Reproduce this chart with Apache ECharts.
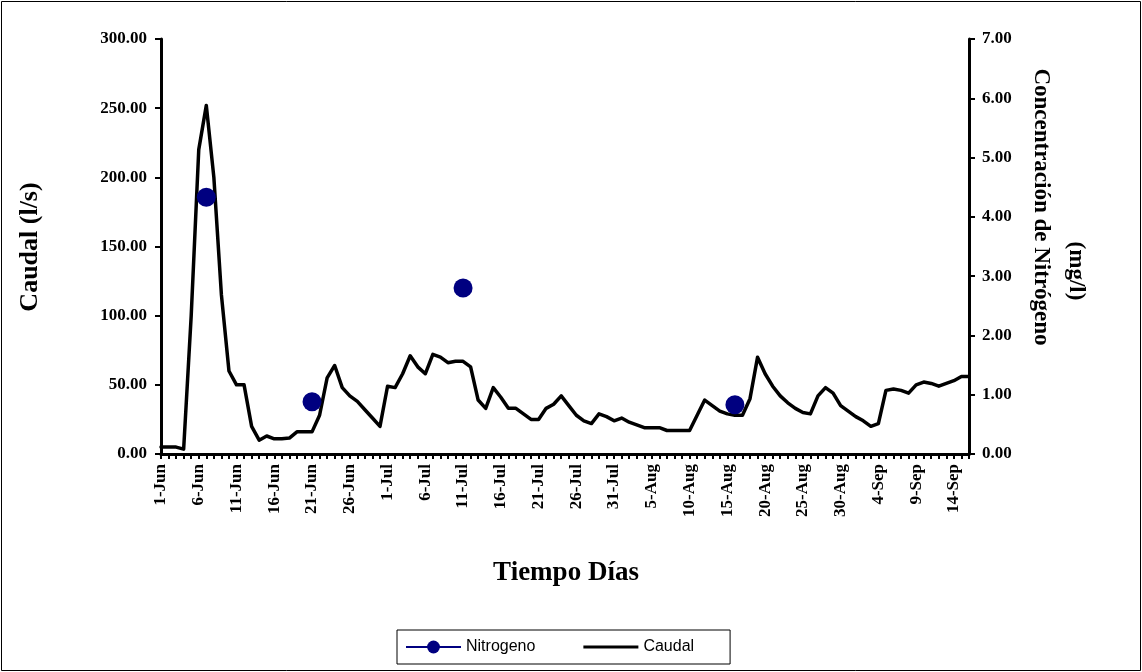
<!DOCTYPE html>
<html><head><meta charset="utf-8">
<script src="https://cdn.jsdelivr.net/npm/echarts@6/dist/echarts.min.js"></script>
<style>html,body{margin:0;padding:0;background:#fff}#c{width:1142px;height:672px}</style>
</head><body><div id="c"></div>
<script>
// Categories: daily, 1-Jun to 16-Sep
const monthSpans = [['Jun', 30], ['Jul', 31], ['Aug', 31], ['Sep', 16]];
const categories = [];
monthSpans.forEach(([m, n]) => { for (let d = 1; d <= n; d++) categories.push(d + '-' + m); });

// Caudal (l/s), one value per day
const caudal = [
  5, 5, 5, 3.5, 100, 220, 252, 200, 115, 60,
  50, 50, 20, 10, 13, 11, 11, 11.5, 16, 16,
  16, 28, 55, 64, 48, 42, 38, 32, 26, 20,
  49, 48, 58, 71, 63, 58, 72, 70, 66, 67,
  67, 63, 39, 33, 48, 41, 33, 33, 29, 25,
  25, 33, 36, 42, 35, 28, 24, 22, 29, 27,
  24, 26, 23, 21, 19, 19, 19, 17, 17, 17,
  17, 28, 39, 35, 31, 29, 28, 28, 40, 70,
  58, 49, 42, 37, 33, 30, 29, 42, 48, 44,
  35, 31, 27, 24, 20, 22, 46, 47, 46, 44,
  50, 52, 51, 49, 51, 53, 56, 56
];

// Nitrogeno (mg/l) samples
const nitrogenoDates = ['7-Jun', '21-Jun', '11-Jul', '16-Aug'];
const nitrogenoValues = [4.33, 0.88, 2.80, 0.83];

// Axis ranges
const caudalAxis = { min: 0, max: 300, step: 50 };
const nitroAxis = { min: 0, max: 7, step: 1 };

const nitrogenoSeries = categories.map(c => {
  const i = nitrogenoDates.indexOf(c);
  return i >= 0 ? nitrogenoValues[i] : null;
});

const serif = 'Liberation Serif, Times New Roman, serif';
const axisLabelStyle = { fontFamily: serif, fontWeight: 'bold', fontSize: 17, color: '#000' };

const chart = echarts.init(document.getElementById('c'));
chart.setOption({
  animation: false,
  backgroundColor: '#fff',
  grid: { left: 161, right: 173, top: 39, bottom: 218, containLabel: false },
  legend: {
    data: [
      { name: 'Nitrogeno' },
      { name: 'Caudal', icon: 'path://M0,0 M0,6.5 L55,6.5 L55,9.5 L0,9.5 Z M55,16' }
    ],
    left: 397, top: 630,
    orient: 'horizontal',
    itemWidth: 55, itemHeight: 16, itemGap: 48,
    padding: [9, 36, 9, 8],
    borderColor: '#000', borderWidth: 1,
    textStyle: { fontFamily: 'Liberation Sans, Arial, sans-serif', fontSize: 16, color: '#000' }
  },
  xAxis: {
    type: 'category', data: categories, boundaryGap: false,
    axisLine: { lineStyle: { color: '#000', width: 3 } },
    axisTick: { show: true, interval: 0, length: 5, lineStyle: { color: '#000', width: 2 } },
    axisLabel: Object.assign({ interval: 4, rotate: 90, margin: 10 }, axisLabelStyle),
    splitLine: { show: false }
  },
  yAxis: [
    {
      type: 'value', position: 'left', min: caudalAxis.min, max: caudalAxis.max, interval: caudalAxis.step,
      axisLine: { show: true, lineStyle: { color: '#000', width: 3 } },
      axisTick: { show: true, length: 6, lineStyle: { color: '#000', width: 2 } },
      axisLabel: Object.assign({ margin: 14, formatter: v => v.toFixed(2) }, axisLabelStyle),
      splitLine: { show: false }
    },
    {
      type: 'value', position: 'right', min: nitroAxis.min, max: nitroAxis.max, interval: nitroAxis.step,
      axisLine: { show: true, lineStyle: { color: '#000', width: 3 } },
      axisTick: { show: true, length: 6, lineStyle: { color: '#000', width: 2 } },
      axisLabel: Object.assign({ margin: 13, formatter: v => v.toFixed(2) }, axisLabelStyle),
      splitLine: { show: false }
    }
  ],
  series: [
    {
      name: 'Caudal', type: 'line', yAxisIndex: 0, data: caudal,
      symbol: 'none', showSymbol: false,
      lineStyle: { color: '#000', width: 3.5, join: 'round', cap: 'round' }, itemStyle: { color: '#000' }, z: 2
    },
    {
      name: 'Nitrogeno', type: 'line', yAxisIndex: 1, data: nitrogenoSeries,
      symbol: 'circle', symbolSize: 19, showSymbol: true, showAllSymbol: true, connectNulls: false,
      lineStyle: { color: '#000080', width: 1 }, itemStyle: { color: '#000080' }, z: 3
    }
  ],
  graphic: [
    { type: 'rect', shape: { x: 1.5, y: 1.5, width: 1139, height: 669 },
      style: { fill: 'none', stroke: '#000', lineWidth: 1 }, silent: true },
    { type: 'text', x: 30, y: 247, rotation: Math.PI / 2,
      style: { text: 'Caudal (l/s)', fontFamily: serif, fontWeight: 'bold', fontSize: 26, fill: '#000',
        textAlign: 'center', textVerticalAlign: 'middle' } },
    { type: 'text', x: 1041, y: 207, rotation: -Math.PI / 2,
      style: { text: 'Concentración de Nitrógeno', fontFamily: serif, fontWeight: 'bold', fontSize: 23, fill: '#000',
        textAlign: 'center', textVerticalAlign: 'middle' } },
    { type: 'text', x: 1076, y: 271, rotation: -Math.PI / 2,
      style: { text: '(mg/l)', fontFamily: serif, fontWeight: 'bold', fontSize: 23, fill: '#000',
        textAlign: 'center', textVerticalAlign: 'middle' } },
    { type: 'text', x: 566, y: 573,
      style: { text: 'Tiempo Días', fontFamily: serif, fontWeight: 'bold', fontSize: 27, fill: '#000',
        textAlign: 'center', textVerticalAlign: 'middle' } }
  ]
});
</script>
</body></html>
